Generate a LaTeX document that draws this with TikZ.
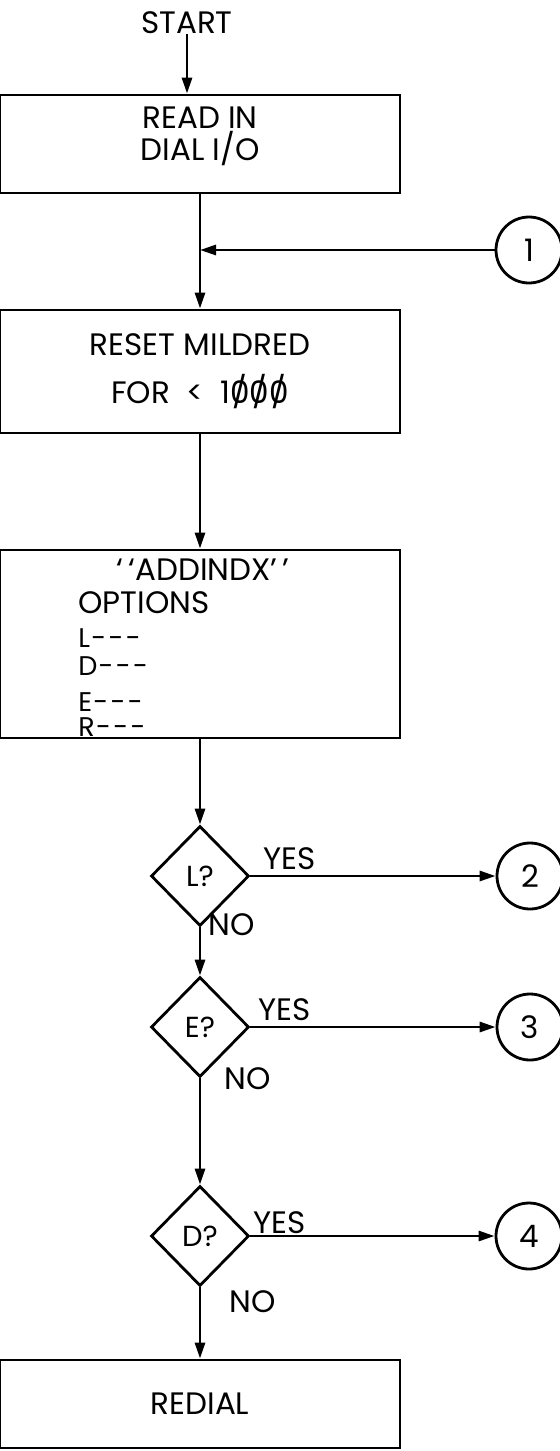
\documentclass[tikz,border=0pt]{standalone}
\usepackage{fontspec}
\setmainfont{Poppins}
\usetikzlibrary{shapes.geometric,arrows.meta,positioning}
\tikzstyle{block}=[rectangle,draw=black,line width=1.4pt,minimum width=200pt,inner sep=0pt,align=center]
\tikzstyle{decision}=[diamond,draw=black,line width=1.4pt,minimum width=49pt,minimum height=50pt,inner sep=0pt,font=\fontsize{14.5}{16}\selectfont]
\tikzstyle{conn}=[circle,draw=black,line width=1.4pt,minimum size=33pt,inner sep=0pt]
\tikzstyle{flow}=[-{Triangle[length=8pt,width=5pt]},line width=1.4pt]
\tikzstyle{plain}=[line width=1.4pt]
\tikzstyle{lbl}=[inner sep=0pt,anchor=base]
\newcommand{\zsl}{{\ooalign{0\cr\hidewidth/\hidewidth\cr}}}
\newcommand{\dsh}{\kern0.6pt-\kern0.6pt}

\begin{document}
\begin{tikzpicture}[x=0.5pt,y=-0.5pt,font=\fontsize{15.5}{18}\selectfont]
    \useasboundingbox (0,0) rectangle (560,1451);

    % nodes
    \node[lbl] (start) at (187,33) {START};
    \node[block,minimum height=49pt] (read) at (200,144) {READ IN\\[-2pt]DIAL I/O\\[-8pt]\mbox{}};
    \coordinate (join) at (200,250);
    \node[conn] (c1) at (529,250) {1};
    \node[block,minimum height=61.5pt] (reset) at (200,371.5) {RESET MILDRED\\[6pt]FOR \ <\ \ 1\zsl\zsl\zsl};
    \node[block,minimum height=94pt] (addindx) at (200,644) {};
    \node[lbl] (title) at (203,580) {`\,`ADDINDX'\,'};
    \node[lbl,anchor=base west] (opt) at (78,613) {OPTIONS};
    \foreach \k/\y in {L/647,D/675,E/711,R/736}
        \node[lbl,anchor=base west,font=\fontsize{13.5}{15}\selectfont] (opt\k) at (78,\y) {\k\dsh\dsh\dsh};
    \node[decision] (qL) at (200,876) {L?};
    \node[conn] (c2) at (530,876) {2};
    \node[decision] (qE) at (200,1027) {E?};
    \node[conn] (c3) at (530,1027) {3};
    \node[decision] (qD) at (200,1236) {D?};
    \node[conn] (c4) at (529,1236) {4};
    \node[block,minimum height=44pt] (redial) at (200,1404) {REDIAL};

    % connectors
    \draw[flow] (start) -- (start |- read.north);
    \draw[plain] (read) -- (join);
    \draw[flow] (c1) -- (join);
    \draw[flow] (join) -- (reset);
    \draw[flow] (reset) -- (addindx);
    \draw[flow] (addindx) -- (qL);
    \draw[flow] (qL) -- node[lbl,pos=0.16,yshift=3.5pt] {YES} (c2);
    \draw[flow] (qL) -- node[lbl,anchor=base west,pos=0.16,xshift=3.5pt] {NO} (qE);
    \draw[flow] (qE) -- node[lbl,pos=0.14,yshift=3.5pt] {YES} (c3);
    \draw[flow] (qE) -- node[lbl,anchor=base west,pos=0.1,xshift=11.5pt] {NO} (qD);
    \draw[flow] (qD) -- node[lbl,pos=0.12,yshift=1.5pt] {YES} (c4);
    \draw[flow] (qD) -- node[lbl,anchor=base west,pos=0.35,xshift=14pt] {NO} (redial);

\end{tikzpicture}
\end{document}
